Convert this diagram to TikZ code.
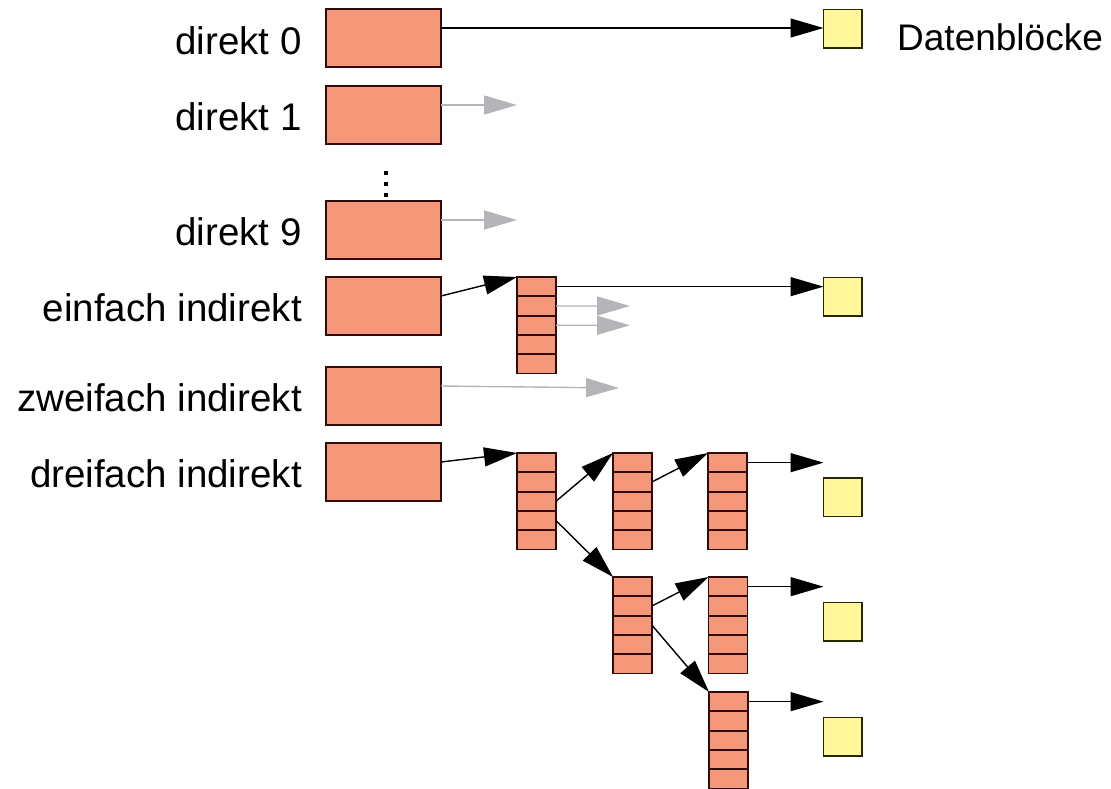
\documentclass[tikz,border=0pt]{standalone}
\usepackage{fontspec}
\setmainfont{Liberation Sans}
\usetikzlibrary{arrows.meta}
\definecolor{salmon}{RGB}{245,152,122}
\definecolor{boxline}{RGB}{50,12,12}
\definecolor{datayellow}{RGB}{255,247,153}
\definecolor{dataline}{RGB}{40,40,0}
\definecolor{grayarrow}{RGB}{180,180,185}
\tikzset{
  inode/.style={draw=boxline, fill=salmon, line width=1.6pt, minimum width=115pt, minimum height=58pt, inner sep=0pt, outer sep=0pt, anchor=north west},
  cellbox/.style={draw=boxline, fill=salmon, line width=1.8pt, minimum width=39pt, minimum height=19.3pt, inner sep=0pt, outer sep=0pt, anchor=north west},
  datablock/.style={draw=dataline, fill=datayellow, line width=1.4pt, minimum width=38.5pt, minimum height=38.5pt, inner sep=0pt, outer sep=0pt, anchor=north west},
  lbl/.style={font=\fontsize{38.5pt}{44pt}\selectfont, inner sep=0pt, anchor=base east},
  ptr/.style={draw=black, line width=1.4pt, -{Triangle[length=33pt, width=19pt]}},
  gptr/.style={draw=grayarrow, line width=1.4pt, -{Triangle[length=33pt, width=19pt]}},
  dotmark/.style={fill=black, minimum size=3.6pt, inner sep=0pt, outer sep=0pt}
}
\newcommand{\mkcolumn}[3]{%
  \foreach \k in {1,...,5}{%
    \node[cellbox] (#1-\k) at (#2, #3+\k*19.3-19.3) {};
  }%
}
\begin{document}
\begin{tikzpicture}[x=1pt, y=-1pt]
\useasboundingbox (0,0) rectangle (1111,788);
% inode entries
\node[inode] (b0) at (326,9) {};
\node[inode] (b1) at (326,86) {};
\node[inode] (b9) at (326,201) {};
\node[inode] (b3) at (326,277) {};
\node[inode] (b4) at (326,367) {};
\node[inode] (b5) at (326,443) {};
% labels
\node[lbl] (l0) at (302,54) {direkt 0};
\node[lbl] (l1) at (302,130) {direkt 1};
\node[lbl] (l9) at (302,245) {direkt 9};
\node[lbl] (l3) at (302,321) {einfach indirekt};
\node[lbl] (l4) at (302,411) {zweifach indirekt};
\node[lbl] (l5) at (302,487) {dreifach indirekt};
% dots
\node[dotmark] (p1) at (386,173) {};
\node[dotmark] (p2) at (386,184) {};
\node[dotmark] (p3) at (386,195) {};
% data blocks
\node[datablock] (d0) at (823.5,9.5) {};
\node[datablock] (d1) at (823.5,277.5) {};
\node[datablock] (d2) at (823.5,478) {};
\node[datablock] (d3) at (823.5,602.5) {};
\node[datablock] (d4) at (823.5,717.5) {};
\node[font=\fontsize{37pt}{42pt}\selectfont, inner sep=0pt, anchor=base west] (dl) at (897,50) {Datenblöcke};
% index columns
\mkcolumn{c1}{517}{277}
\mkcolumn{e1}{517}{453}
\mkcolumn{e2}{613}{453}
\mkcolumn{e3}{708}{453}
\mkcolumn{e4}{613}{577}
\mkcolumn{e5}{708.5}{577}
\mkcolumn{e6}{709}{692}
% free ends
\coordinate (g1) at (517,105);
\coordinate (g9) at (517,220);
\coordinate (gc2) at (630,306);
\coordinate (gc3) at (630,325.3);
\coordinate (g4) at (619,388);
% connectors direct
\draw[ptr] ([yshift=-19pt]b0.north east) -- ([yshift=-19pt]b0.north east -| d0.west);
\draw[gptr] ([yshift=-19pt]b1.north east) -- (g1);
\draw[gptr] ([yshift=-19pt]b9.north east) -- (g9);
% single indirect
\draw[ptr] ([yshift=-19pt]b3.north east) -- (c1-1.north west);
\draw[ptr] (c1-1.east) -- (c1-1.east -| d1.west);
\draw[gptr] (c1-2.east) -- (gc2);
\draw[gptr] (c1-3.east) -- (gc3);
% double indirect
\draw[gptr] ([yshift=-19pt]b4.north east) -- (g4);
% triple indirect
\draw[ptr] ([yshift=-19pt]b5.north east) -- (e1-1.north west);
\draw[ptr] (e1-3.east) -- (e2-1.north west);
\draw[ptr] (e1-4.east) -- (e4-1.north west);
\draw[ptr] (e2-2.east) -- (e3-1.north west);
\draw[ptr] (e3-1.east) -- (e3-1.east -| d2.west);
\draw[ptr] (e4-2.east) -- (e5-1.north west);
\draw[ptr] (e4-3.east) -- (e6-1.north west);
\draw[ptr] (e5-1.east) -- (e5-1.east -| d3.west);
\draw[ptr] (e6-1.east) -- (e6-1.east -| d4.west);
\end{tikzpicture}
\end{document}
